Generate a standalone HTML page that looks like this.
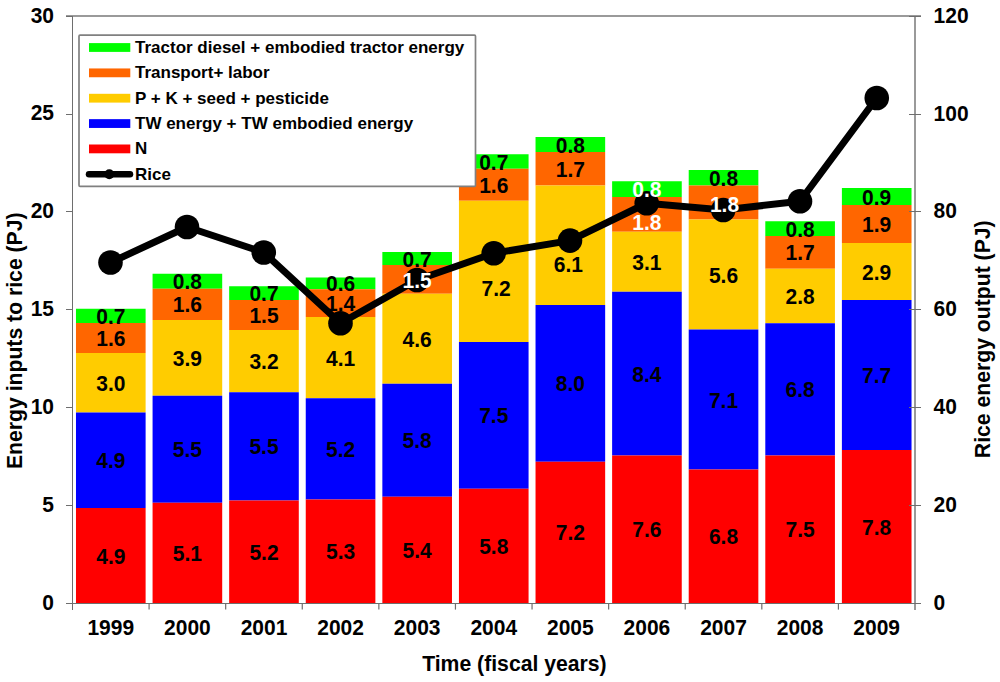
<!DOCTYPE html><html><head><meta charset="utf-8"><style>html,body{margin:0;padding:0;background:#fff;width:1000px;height:682px;overflow:hidden}svg{display:block}text{font-family:"Liberation Sans",sans-serif;font-weight:bold}</style></head><body>
<svg width="1000" height="682" viewBox="0 0 1000 682">
<rect width="1000" height="682" fill="#fff"/>
<rect x="75.98" y="308.75" width="69.63" height="14.25" fill="#00FF00"/>
<rect x="75.98" y="323.00" width="69.63" height="30.00" fill="#FF6600"/>
<rect x="75.98" y="353.00" width="69.63" height="59.50" fill="#FFCC00"/>
<rect x="75.98" y="412.50" width="69.63" height="95.50" fill="#0000FF"/>
<rect x="75.98" y="508.00" width="69.63" height="95.00" fill="#FF0000"/>
<rect x="152.57" y="273.75" width="69.63" height="15.00" fill="#00FF00"/>
<rect x="152.57" y="288.75" width="69.63" height="31.25" fill="#FF6600"/>
<rect x="152.57" y="320.00" width="69.63" height="75.75" fill="#FFCC00"/>
<rect x="152.57" y="395.75" width="69.63" height="107.00" fill="#0000FF"/>
<rect x="152.57" y="502.75" width="69.63" height="100.25" fill="#FF0000"/>
<rect x="229.16" y="286.25" width="69.63" height="13.75" fill="#00FF00"/>
<rect x="229.16" y="300.00" width="69.63" height="30.00" fill="#FF6600"/>
<rect x="229.16" y="330.00" width="69.63" height="62.25" fill="#FFCC00"/>
<rect x="229.16" y="392.25" width="69.63" height="108.25" fill="#0000FF"/>
<rect x="229.16" y="500.50" width="69.63" height="102.50" fill="#FF0000"/>
<rect x="305.75" y="277.50" width="69.63" height="11.75" fill="#00FF00"/>
<rect x="305.75" y="289.25" width="69.63" height="27.75" fill="#FF6600"/>
<rect x="305.75" y="317.00" width="69.63" height="81.25" fill="#FFCC00"/>
<rect x="305.75" y="398.25" width="69.63" height="101.25" fill="#0000FF"/>
<rect x="305.75" y="499.50" width="69.63" height="103.50" fill="#FF0000"/>
<rect x="382.35" y="252.00" width="69.63" height="13.00" fill="#00FF00"/>
<rect x="382.35" y="265.00" width="69.63" height="28.75" fill="#FF6600"/>
<rect x="382.35" y="293.75" width="69.63" height="90.00" fill="#FFCC00"/>
<rect x="382.35" y="383.75" width="69.63" height="113.00" fill="#0000FF"/>
<rect x="382.35" y="496.75" width="69.63" height="106.25" fill="#FF0000"/>
<rect x="458.94" y="154.25" width="69.63" height="14.50" fill="#00FF00"/>
<rect x="458.94" y="168.75" width="69.63" height="32.00" fill="#FF6600"/>
<rect x="458.94" y="200.75" width="69.63" height="141.25" fill="#FFCC00"/>
<rect x="458.94" y="342.00" width="69.63" height="146.75" fill="#0000FF"/>
<rect x="458.94" y="488.75" width="69.63" height="114.25" fill="#FF0000"/>
<rect x="535.53" y="137.00" width="69.63" height="15.00" fill="#00FF00"/>
<rect x="535.53" y="152.00" width="69.63" height="33.50" fill="#FF6600"/>
<rect x="535.53" y="185.50" width="69.63" height="119.50" fill="#FFCC00"/>
<rect x="535.53" y="305.00" width="69.63" height="156.75" fill="#0000FF"/>
<rect x="535.53" y="461.75" width="69.63" height="141.25" fill="#FF0000"/>
<rect x="612.12" y="181.25" width="69.63" height="15.75" fill="#00FF00"/>
<rect x="612.12" y="197.00" width="69.63" height="34.75" fill="#FF6600"/>
<rect x="612.12" y="231.75" width="69.63" height="60.00" fill="#FFCC00"/>
<rect x="612.12" y="291.75" width="69.63" height="163.75" fill="#0000FF"/>
<rect x="612.12" y="455.50" width="69.63" height="147.50" fill="#FF0000"/>
<rect x="688.71" y="170.00" width="69.63" height="15.50" fill="#00FF00"/>
<rect x="688.71" y="185.50" width="69.63" height="34.00" fill="#FF6600"/>
<rect x="688.71" y="219.50" width="69.63" height="110.00" fill="#FFCC00"/>
<rect x="688.71" y="329.50" width="69.63" height="140.00" fill="#0000FF"/>
<rect x="688.71" y="469.50" width="69.63" height="133.50" fill="#FF0000"/>
<rect x="765.30" y="221.25" width="69.63" height="14.75" fill="#00FF00"/>
<rect x="765.30" y="236.00" width="69.63" height="32.75" fill="#FF6600"/>
<rect x="765.30" y="268.75" width="69.63" height="54.50" fill="#FFCC00"/>
<rect x="765.30" y="323.25" width="69.63" height="132.25" fill="#0000FF"/>
<rect x="765.30" y="455.50" width="69.63" height="147.50" fill="#FF0000"/>
<rect x="841.89" y="188.00" width="69.63" height="17.00" fill="#00FF00"/>
<rect x="841.89" y="205.00" width="69.63" height="38.00" fill="#FF6600"/>
<rect x="841.89" y="243.00" width="69.63" height="57.00" fill="#FFCC00"/>
<rect x="841.89" y="300.00" width="69.63" height="150.00" fill="#0000FF"/>
<rect x="841.89" y="450.00" width="69.63" height="153.00" fill="#FF0000"/>
<g shape-rendering="crispEdges">
<line x1="66" y1="16" x2="921" y2="16" stroke="#9a9a9a" stroke-width="2"/>
<line x1="915" y1="16" x2="915" y2="610" stroke="#9a9a9a" stroke-width="2"/>
<line x1="72.5" y1="16" x2="72.5" y2="610" stroke="#6e6e6e" stroke-width="1"/>
<line x1="66" y1="603.5" x2="921" y2="603.5" stroke="#6e6e6e" stroke-width="1"/>
</g>
<line x1="149.09" y1="604" x2="149.09" y2="609.6" stroke="#6e6e6e" stroke-width="1.2"/>
<line x1="225.68" y1="604" x2="225.68" y2="609.6" stroke="#6e6e6e" stroke-width="1.2"/>
<line x1="302.27" y1="604" x2="302.27" y2="609.6" stroke="#6e6e6e" stroke-width="1.2"/>
<line x1="378.86" y1="604" x2="378.86" y2="609.6" stroke="#6e6e6e" stroke-width="1.2"/>
<line x1="455.45" y1="604" x2="455.45" y2="609.6" stroke="#6e6e6e" stroke-width="1.2"/>
<line x1="532.05" y1="604" x2="532.05" y2="609.6" stroke="#6e6e6e" stroke-width="1.2"/>
<line x1="608.64" y1="604" x2="608.64" y2="609.6" stroke="#6e6e6e" stroke-width="1.2"/>
<line x1="685.23" y1="604" x2="685.23" y2="609.6" stroke="#6e6e6e" stroke-width="1.2"/>
<line x1="761.82" y1="604" x2="761.82" y2="609.6" stroke="#6e6e6e" stroke-width="1.2"/>
<line x1="838.41" y1="604" x2="838.41" y2="609.6" stroke="#6e6e6e" stroke-width="1.2"/>
<g shape-rendering="crispEdges">
<line x1="66" y1="603.5" x2="72" y2="603.5" stroke="#6e6e6e" stroke-width="1"/>
<line x1="909" y1="603.5" x2="921" y2="603.5" stroke="#6e6e6e" stroke-width="1"/>
<line x1="66" y1="505.5" x2="72" y2="505.5" stroke="#6e6e6e" stroke-width="1"/>
<line x1="909" y1="505.5" x2="921" y2="505.5" stroke="#6e6e6e" stroke-width="1"/>
<line x1="66" y1="407.5" x2="72" y2="407.5" stroke="#6e6e6e" stroke-width="1"/>
<line x1="909" y1="407.5" x2="921" y2="407.5" stroke="#6e6e6e" stroke-width="1"/>
<line x1="66" y1="309.5" x2="72" y2="309.5" stroke="#6e6e6e" stroke-width="1"/>
<line x1="909" y1="309.5" x2="921" y2="309.5" stroke="#6e6e6e" stroke-width="1"/>
<line x1="66" y1="211.5" x2="72" y2="211.5" stroke="#6e6e6e" stroke-width="1"/>
<line x1="909" y1="211.5" x2="921" y2="211.5" stroke="#6e6e6e" stroke-width="1"/>
<line x1="66" y1="114.5" x2="72" y2="114.5" stroke="#6e6e6e" stroke-width="1"/>
<line x1="909" y1="114.5" x2="921" y2="114.5" stroke="#6e6e6e" stroke-width="1"/>
<line x1="66" y1="16.5" x2="72" y2="16.5" stroke="#6e6e6e" stroke-width="1"/>
<line x1="909" y1="16.5" x2="921" y2="16.5" stroke="#6e6e6e" stroke-width="1"/>
</g>
<polyline points="110.5,262.5 187,227 263.75,252.5 340.5,323.25 417,280 493.75,253.25 570,240.6 646.75,203.25 723.25,210 800,201.25 876.75,98" fill="none" stroke="#000" stroke-width="7" stroke-linejoin="round"/>
<circle cx="110.5" cy="262.5" r="12.3" fill="#000"/>
<circle cx="187" cy="227" r="12.3" fill="#000"/>
<circle cx="263.75" cy="252.5" r="12.3" fill="#000"/>
<circle cx="340.5" cy="323.25" r="12.3" fill="#000"/>
<circle cx="417" cy="280" r="12.3" fill="#000"/>
<circle cx="493.75" cy="253.25" r="12.3" fill="#000"/>
<circle cx="570" cy="240.6" r="12.3" fill="#000"/>
<circle cx="646.75" cy="203.25" r="12.3" fill="#000"/>
<circle cx="723.25" cy="210" r="12.3" fill="#000"/>
<circle cx="800" cy="201.25" r="12.3" fill="#000"/>
<circle cx="876.75" cy="98" r="12.3" fill="#000"/>
<text transform="translate(110.80,315.88) scale(1,1.065)" y="7.52" font-size="21" text-anchor="middle" fill="#000">0.7</text>
<text transform="translate(110.80,338.00) scale(1,1.065)" y="7.52" font-size="21" text-anchor="middle" fill="#000">1.6</text>
<text transform="translate(110.80,382.75) scale(1,1.065)" y="7.52" font-size="21" text-anchor="middle" fill="#000">3.0</text>
<text transform="translate(110.80,460.25) scale(1,1.065)" y="7.52" font-size="21" text-anchor="middle" fill="#000">4.9</text>
<text transform="translate(110.80,555.50) scale(1,1.065)" y="7.52" font-size="21" text-anchor="middle" fill="#000">4.9</text>
<text transform="translate(187.39,281.25) scale(1,1.065)" y="7.52" font-size="21" text-anchor="middle" fill="#000">0.8</text>
<text transform="translate(187.39,304.38) scale(1,1.065)" y="7.52" font-size="21" text-anchor="middle" fill="#000">1.6</text>
<text transform="translate(187.39,357.88) scale(1,1.065)" y="7.52" font-size="21" text-anchor="middle" fill="#000">3.9</text>
<text transform="translate(187.39,449.25) scale(1,1.065)" y="7.52" font-size="21" text-anchor="middle" fill="#000">5.5</text>
<text transform="translate(187.39,552.88) scale(1,1.065)" y="7.52" font-size="21" text-anchor="middle" fill="#000">5.1</text>
<text transform="translate(263.98,293.12) scale(1,1.065)" y="7.52" font-size="21" text-anchor="middle" fill="#000">0.7</text>
<text transform="translate(263.98,315.00) scale(1,1.065)" y="7.52" font-size="21" text-anchor="middle" fill="#000">1.5</text>
<text transform="translate(263.98,361.12) scale(1,1.065)" y="7.52" font-size="21" text-anchor="middle" fill="#000">3.2</text>
<text transform="translate(263.98,446.38) scale(1,1.065)" y="7.52" font-size="21" text-anchor="middle" fill="#000">5.5</text>
<text transform="translate(263.98,551.75) scale(1,1.065)" y="7.52" font-size="21" text-anchor="middle" fill="#000">5.2</text>
<text transform="translate(340.57,283.38) scale(1,1.065)" y="7.52" font-size="21" text-anchor="middle" fill="#000">0.6</text>
<text transform="translate(340.57,303.12) scale(1,1.065)" y="7.52" font-size="21" text-anchor="middle" fill="#000">1.4</text>
<text transform="translate(340.57,357.62) scale(1,1.065)" y="7.52" font-size="21" text-anchor="middle" fill="#000">4.1</text>
<text transform="translate(340.57,448.88) scale(1,1.065)" y="7.52" font-size="21" text-anchor="middle" fill="#000">5.2</text>
<text transform="translate(340.57,551.25) scale(1,1.065)" y="7.52" font-size="21" text-anchor="middle" fill="#000">5.3</text>
<text transform="translate(417.16,258.50) scale(1,1.065)" y="7.52" font-size="21" text-anchor="middle" fill="#000">0.7</text>
<text transform="translate(417.16,280.00) scale(1,1.065)" y="7.52" font-size="21" text-anchor="middle" fill="#fff">1.5</text>
<text transform="translate(417.16,338.75) scale(1,1.065)" y="7.52" font-size="21" text-anchor="middle" fill="#000">4.6</text>
<text transform="translate(417.16,440.25) scale(1,1.065)" y="7.52" font-size="21" text-anchor="middle" fill="#000">5.8</text>
<text transform="translate(417.16,549.88) scale(1,1.065)" y="7.52" font-size="21" text-anchor="middle" fill="#000">5.4</text>
<text transform="translate(493.75,161.50) scale(1,1.065)" y="7.52" font-size="21" text-anchor="middle" fill="#000">0.7</text>
<text transform="translate(493.75,184.75) scale(1,1.065)" y="7.52" font-size="21" text-anchor="middle" fill="#000">1.6</text>
<text transform="translate(496.10,288.20) scale(1,1.065)" y="7.52" font-size="21" text-anchor="middle" fill="#000">7.2</text>
<text transform="translate(493.75,415.38) scale(1,1.065)" y="7.52" font-size="21" text-anchor="middle" fill="#000">7.5</text>
<text transform="translate(493.75,545.88) scale(1,1.065)" y="7.52" font-size="21" text-anchor="middle" fill="#000">5.8</text>
<text transform="translate(570.34,144.50) scale(1,1.065)" y="7.52" font-size="21" text-anchor="middle" fill="#000">0.8</text>
<text transform="translate(570.34,168.75) scale(1,1.065)" y="7.52" font-size="21" text-anchor="middle" fill="#000">1.7</text>
<text transform="translate(568.40,264.20) scale(1,1.065)" y="7.52" font-size="21" text-anchor="middle" fill="#000">6.1</text>
<text transform="translate(570.34,383.38) scale(1,1.065)" y="7.52" font-size="21" text-anchor="middle" fill="#000">8.0</text>
<text transform="translate(570.34,532.38) scale(1,1.065)" y="7.52" font-size="21" text-anchor="middle" fill="#000">7.2</text>
<text transform="translate(646.93,189.12) scale(1,1.065)" y="7.52" font-size="21" text-anchor="middle" fill="#fff">0.8</text>
<text transform="translate(646.93,221.90) scale(1,1.065)" y="7.52" font-size="21" text-anchor="middle" fill="#fff">1.8</text>
<text transform="translate(646.93,261.75) scale(1,1.065)" y="7.52" font-size="21" text-anchor="middle" fill="#000">3.1</text>
<text transform="translate(646.93,373.62) scale(1,1.065)" y="7.52" font-size="21" text-anchor="middle" fill="#000">8.4</text>
<text transform="translate(646.93,529.25) scale(1,1.065)" y="7.52" font-size="21" text-anchor="middle" fill="#000">7.6</text>
<text transform="translate(723.52,177.75) scale(1,1.065)" y="7.52" font-size="21" text-anchor="middle" fill="#000">0.8</text>
<text transform="translate(724.50,203.50) scale(1,1.065)" y="7.52" font-size="21" text-anchor="middle" fill="#fff">1.8</text>
<text transform="translate(723.52,274.50) scale(1,1.065)" y="7.52" font-size="21" text-anchor="middle" fill="#000">5.6</text>
<text transform="translate(723.52,399.50) scale(1,1.065)" y="7.52" font-size="21" text-anchor="middle" fill="#000">7.1</text>
<text transform="translate(723.52,536.25) scale(1,1.065)" y="7.52" font-size="21" text-anchor="middle" fill="#000">6.8</text>
<text transform="translate(800.11,228.62) scale(1,1.065)" y="7.52" font-size="21" text-anchor="middle" fill="#000">0.8</text>
<text transform="translate(800.11,252.38) scale(1,1.065)" y="7.52" font-size="21" text-anchor="middle" fill="#000">1.7</text>
<text transform="translate(800.11,296.00) scale(1,1.065)" y="7.52" font-size="21" text-anchor="middle" fill="#000">2.8</text>
<text transform="translate(800.11,389.38) scale(1,1.065)" y="7.52" font-size="21" text-anchor="middle" fill="#000">6.8</text>
<text transform="translate(800.11,529.25) scale(1,1.065)" y="7.52" font-size="21" text-anchor="middle" fill="#000">7.5</text>
<text transform="translate(876.70,196.50) scale(1,1.065)" y="7.52" font-size="21" text-anchor="middle" fill="#000">0.9</text>
<text transform="translate(876.70,224.00) scale(1,1.065)" y="7.52" font-size="21" text-anchor="middle" fill="#000">1.9</text>
<text transform="translate(876.70,271.50) scale(1,1.065)" y="7.52" font-size="21" text-anchor="middle" fill="#000">2.9</text>
<text transform="translate(876.70,375.00) scale(1,1.065)" y="7.52" font-size="21" text-anchor="middle" fill="#000">7.7</text>
<text transform="translate(876.70,526.50) scale(1,1.065)" y="7.52" font-size="21" text-anchor="middle" fill="#000">7.8</text>
<text transform="translate(54.00,601.60) scale(1,1.065)" y="7.52" font-size="21" text-anchor="end" fill="#000">0</text>
<text transform="translate(54.00,503.77) scale(1,1.065)" y="7.52" font-size="21" text-anchor="end" fill="#000">5</text>
<text transform="translate(54.00,405.93) scale(1,1.065)" y="7.52" font-size="21" text-anchor="end" fill="#000">10</text>
<text transform="translate(54.00,308.10) scale(1,1.065)" y="7.52" font-size="21" text-anchor="end" fill="#000">15</text>
<text transform="translate(54.00,210.27) scale(1,1.065)" y="7.52" font-size="21" text-anchor="end" fill="#000">20</text>
<text transform="translate(54.00,112.43) scale(1,1.065)" y="7.52" font-size="21" text-anchor="end" fill="#000">25</text>
<text transform="translate(54.00,14.60) scale(1,1.065)" y="7.52" font-size="21" text-anchor="end" fill="#000">30</text>
<text transform="translate(933.60,601.80) scale(1,1.065)" y="7.52" font-size="21" text-anchor="start" fill="#000">0</text>
<text transform="translate(933.60,503.97) scale(1,1.065)" y="7.52" font-size="21" text-anchor="start" fill="#000">20</text>
<text transform="translate(933.60,406.13) scale(1,1.065)" y="7.52" font-size="21" text-anchor="start" fill="#000">40</text>
<text transform="translate(933.60,308.30) scale(1,1.065)" y="7.52" font-size="21" text-anchor="start" fill="#000">60</text>
<text transform="translate(933.60,210.47) scale(1,1.065)" y="7.52" font-size="21" text-anchor="start" fill="#000">80</text>
<text transform="translate(933.60,112.63) scale(1,1.065)" y="7.52" font-size="21" text-anchor="start" fill="#000">100</text>
<text transform="translate(933.60,14.80) scale(1,1.065)" y="7.52" font-size="21" text-anchor="start" fill="#000">120</text>
<text transform="translate(110.80,627.10) scale(1,1.065)" y="7.52" font-size="21" text-anchor="middle" fill="#000">1999</text>
<text transform="translate(187.39,627.10) scale(1,1.065)" y="7.52" font-size="21" text-anchor="middle" fill="#000">2000</text>
<text transform="translate(263.98,627.10) scale(1,1.065)" y="7.52" font-size="21" text-anchor="middle" fill="#000">2001</text>
<text transform="translate(340.57,627.10) scale(1,1.065)" y="7.52" font-size="21" text-anchor="middle" fill="#000">2002</text>
<text transform="translate(417.16,627.10) scale(1,1.065)" y="7.52" font-size="21" text-anchor="middle" fill="#000">2003</text>
<text transform="translate(493.75,627.10) scale(1,1.065)" y="7.52" font-size="21" text-anchor="middle" fill="#000">2004</text>
<text transform="translate(570.34,627.10) scale(1,1.065)" y="7.52" font-size="21" text-anchor="middle" fill="#000">2005</text>
<text transform="translate(646.93,627.10) scale(1,1.065)" y="7.52" font-size="21" text-anchor="middle" fill="#000">2006</text>
<text transform="translate(723.52,627.10) scale(1,1.065)" y="7.52" font-size="21" text-anchor="middle" fill="#000">2007</text>
<text transform="translate(800.11,627.10) scale(1,1.065)" y="7.52" font-size="21" text-anchor="middle" fill="#000">2008</text>
<text transform="translate(876.70,627.10) scale(1,1.065)" y="7.52" font-size="21" text-anchor="middle" fill="#000">2009</text>
<text x="514.4" y="670.7" font-size="21.2" text-anchor="middle">Time (fiscal years)</text>
<text transform="translate(21.8,340.75) rotate(-90)" font-size="21.2" text-anchor="middle">Energy inputs to rice (PJ)</text>
<text transform="translate(990,339.25) rotate(-90)" font-size="21.2" text-anchor="middle">Rice energy output (PJ)</text>
<rect x="79" y="35.2" width="396.5" height="151.1" fill="#fff" stroke="#808080" stroke-width="1.7" rx="1"/>
<rect x="89" y="43.10" width="41.3" height="8.8" fill="#00FF00"/>
<text x="135" y="52.80" font-size="17">Tractor diesel + embodied tractor energy</text>
<rect x="89" y="68.45" width="41.3" height="8.8" fill="#FF6600"/>
<text x="135" y="78.15" font-size="17">Transport+ labor</text>
<rect x="89" y="93.80" width="41.3" height="8.8" fill="#FFCC00"/>
<text x="135" y="103.50" font-size="17">P + K + seed + pesticide</text>
<rect x="89" y="119.15" width="41.3" height="8.8" fill="#0000FF"/>
<text x="135" y="128.85" font-size="17">TW energy + TW embodied energy</text>
<rect x="89" y="144.50" width="41.3" height="8.8" fill="#FF0000"/>
<text x="135" y="154.20" font-size="17">N</text>
<line x1="89" y1="174.25" x2="130" y2="174.25" stroke="#000" stroke-width="6.5" stroke-linecap="round"/>
<circle cx="109.3" cy="174.25" r="5" fill="#000"/>
<text x="135" y="179.55" font-size="17">Rice</text>
</svg></body></html>
